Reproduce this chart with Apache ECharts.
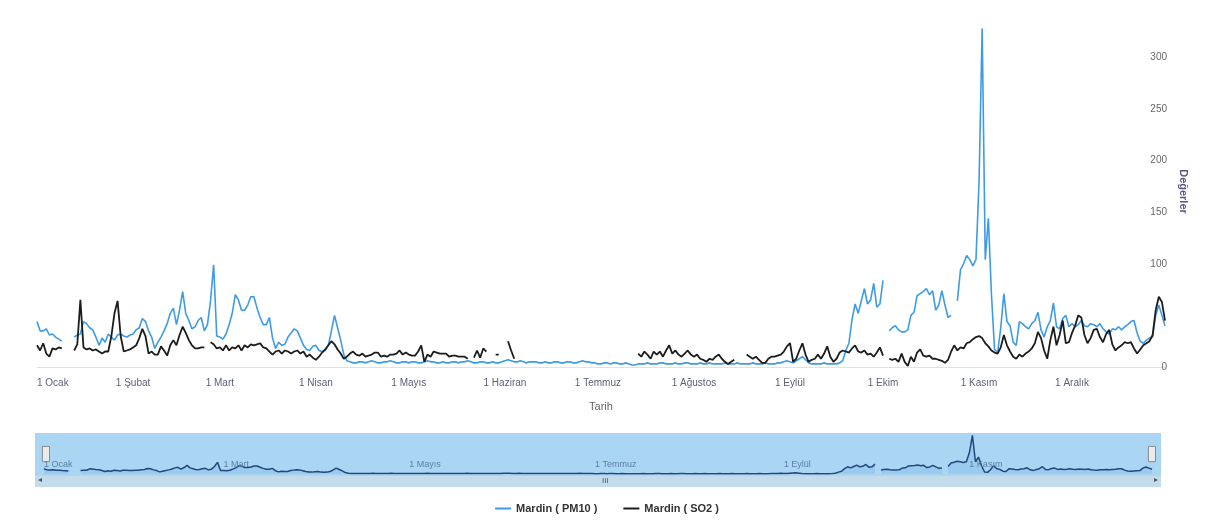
<!DOCTYPE html>
<html>
<head>
<meta charset="utf-8">
<title>Mardin PM10 / SO2</title>
<script src="https://cdn.jsdelivr.net/npm/echarts@6/dist/echarts.min.js"></script>
<style>
  html, body { margin: 0; padding: 0; background: #fff; }
  #chart { width: 1214px; height: 524px; }
</style>
</head>
<body>
<div id="chart"></div>
<script>
// month names / lengths (non leap year)
var monthNames = ['Ocak', 'Şubat', 'Mart', 'Nisan', 'Mayıs', 'Haziran', 'Temmuz', 'Ağustos', 'Eylül', 'Ekim', 'Kasım', 'Aralık'];
var monthDays = [31, 28, 31, 30, 31, 30, 31, 31, 30, 31, 30, 31];
var seriesNames = ['Mardin ( PM10 )', 'Mardin ( SO2 )'];
var yTicks = [0, 100, 150, 200, 250, 300];   // 50 is not printed in the original

// daily PM10 values, 1 Ocak .. 31 Aralık
var pm10 = [
  44,35,35,37,31,32,29,27,25,null,
  null,null,29,31,32,44,42,38,36,29,
  21,28,24,32,29,26,31,32,30,29,
  31,32,36,38,47,44,35,29,18,24,
  29,35,42,52,57,41,55,73,52,45,
  37,39,45,48,35,41,64,99,30,29,
  27,32,41,52,70,65,55,55,60,68,
  68,57,48,41,41,48,28,18,24,21,
  22,29,33,37,35,28,21,17,16,20,
  21,16,15,16,21,35,50,38,26,12,
  6,5,4,4,5,5,4,5,6,5,
  4,4,5,5,6,5,4,4,5,5,
  4,5,5,4,4,5,6,5,5,4,
  4,5,4,4,5,5,4,5,5,6,
  5,4,4,5,5,4,4,5,4,4,
  5,6,7,6,5,5,6,5,4,5,
  5,5,4,4,5,4,4,5,5,4,
  4,5,5,4,4,5,6,5,5,4,
  4,3,3,4,4,3,4,4,3,3,
  4,3,2,2,3,3,3,4,3,3,
  3,4,4,3,3,3,4,3,3,4,
  4,3,3,3,4,3,3,4,3,3,
  3,3,4,3,3,3,4,3,3,3,
  3,4,3,3,3,4,3,3,3,4,
  4,5,6,5,4,6,8,10,7,4,
  3,3,3,3,4,3,3,3,3,4,
  6,16,23,46,61,52,64,76,61,65,
  81,58,61,84,null,35,38,40,36,34,
  34,36,50,53,69,71,73,76,70,74,
  55,60,74,60,48,50,null,64,94,100,
  108,104,98,104,180,328,104,144,70,17,
  14,38,71,44,40,24,21,44,42,39,
  37,42,45,53,36,29,39,45,62,39,
  37,47,50,39,42,39,41,45,40,39,
  42,41,39,42,37,34,32,37,36,39,
  36,39,41,44,45,33,25,23,26,28,
  29,50,60,50,40
];

// daily SO2 values
var so2 = [
  21,16,23,13,10,18,17,19,18,null,
  null,null,16,22,65,19,17,18,16,17,
  15,13,15,15,30,52,64,30,15,16,
  17,19,21,28,37,30,13,15,12,12,
  20,16,11,21,26,21,31,39,33,26,
  21,18,18,19,19,null,24,22,18,19,
  16,21,16,19,18,21,16,21,19,22,
  21,22,23,19,18,15,12,15,16,13,
  16,15,13,15,16,13,15,10,12,9,
  7,10,14,17,21,25,22,17,13,8,
  10,13,15,12,11,13,10,11,12,14,
  14,10,11,10,12,12,13,16,12,14,
  12,11,11,15,21,5,12,10,15,14,
  13,13,13,10,11,11,10,10,10,8,
  null,9,16,9,18,15,null,null,12,12,
  null,null,25,16,8,null,null,null,null,null,
  null,null,null,null,null,null,null,null,null,null,
  null,null,null,null,null,null,null,null,null,null,
  null,null,null,null,null,null,null,null,null,null,
  null,null,null,null,13,10,15,12,8,15,
  12,15,10,16,21,13,16,12,10,13,
  16,12,10,12,8,7,5,8,7,10,
  12,8,5,3,5,7,null,null,null,12,
  10,8,10,7,4,4,8,10,10,11,
  12,15,20,23,5,8,16,23,12,5,
  7,8,12,8,13,20,10,5,8,14,
  16,15,14,18,21,15,14,16,12,13,
  10,14,19,11,null,8,7,8,5,13,
  5,1,10,5,14,17,11,10,11,8,
  8,7,6,4,7,15,21,16,19,18,
  23,24,27,29,30,28,23,20,16,14,
  13,19,31,21,15,10,8,12,10,13,
  15,18,23,34,28,16,8,26,39,21,
  31,45,23,24,33,40,50,48,31,23,
  28,36,37,29,24,32,36,22,16,19,
  21,24,23,24,18,13,17,21,23,25,
  31,55,68,63,45
];

// categories: "1 Ocak", "2 Ocak", ...
var days = [];
var monthOf = [];
for (var m = 0; m < 12; m++) {
  for (var d = 1; d <= monthDays[m]; d++) {
    days.push(d + ' ' + monthNames[m]);
    monthOf.push(m);
  }
}

var font = 'Liberation Sans';
var myChart = echarts.init(document.getElementById('chart'), null, { renderer: 'canvas' });

var option = {
  animation: false,
  backgroundColor: '#fff',
  textStyle: { fontFamily: font },
  grid: [
    { left: 37, right: 49, top: 16, bottom: 157 },
    { left: 44, right: 62, top: 434, height: 40 }   // navigator
  ],
  xAxis: [
    {
      type: 'category',
      data: days,
      boundaryGap: false,
      name: 'Tarih',
      nameLocation: 'middle',
      nameGap: 34,
      nameTextStyle: { color: '#666', fontSize: 11, fontFamily: font },
      axisLine: { lineStyle: { color: '#dde2ea' } },
      axisTick: { show: false },
      splitLine: { show: false },
      axisLabel: {
        color: '#5a5f78',
        fontSize: 10,
        margin: 11,
        alignMinLabel: 'left',
        interval: function (i, v) { return v.split(' ')[0] === '1'; }
      }
    },
    {
      type: 'category',
      gridIndex: 1,
      data: days,
      boundaryGap: false,
      z: 10,
      axisLine: { show: false },
      axisTick: { show: false },
      splitLine: { show: false },
      axisLabel: {
        inside: true,
        color: '#5d7ea3',
        fontSize: 9,
        margin: 5,
        align: 'left',
        interval: function (i, v) { return v.split(' ')[0] === '1' && monthOf[i] % 2 === 0; }
      }
    }
  ],
  yAxis: [
    {
      type: 'value',
      position: 'right',
      min: 0,
      max: 340,
      interval: 50,
      name: 'Değerler',
      nameLocation: 'middle',
      nameRotate: -90,
      nameGap: 12,
      nameTextStyle: { color: '#5b5486', fontSize: 11, fontWeight: 'bold', fontFamily: font },
      axisLine: { show: false },
      axisTick: { show: false },
      splitLine: { show: false },
      axisLabel: {
        color: '#666',
        fontSize: 10,
        align: 'right',
        margin: 2,
        showMaxLabel: false,
        formatter: function (v) { return yTicks.indexOf(v) >= 0 ? String(v) : ''; }
      }
    },
    { type: 'value', gridIndex: 1, min: 0, max: 340, show: false }
  ],
  dataZoom: [
    {
      type: 'slider',
      xAxisIndex: 0,
      filterMode: 'none',
      start: 0,
      end: 100,
      left: 44,
      right: 62,
      top: 434,
      height: 40,
      showDetail: false,
      showDataShadow: false,
      brushSelect: false,
      moveHandleSize: 0,
      backgroundColor: 'rgba(0,0,0,0)',
      borderColor: 'rgba(0,0,0,0)',
      fillerColor: 'rgba(0,0,0,0)',
      handleIcon: 'path://M-3.5,-7.5h7v15h-7z',
      handleSize: '38%',
      handleStyle: { color: '#ebebeb', borderColor: '#8a8a8a', borderWidth: 1 }
    }
  ],
  graphic: [
    { type: 'rect', z: -10, shape: { x: 35, y: 433, width: 1126, height: 43 }, style: { fill: '#aad6f3' } },
    { type: 'rect', z: -10, shape: { x: 35, y: 476, width: 1126, height: 11 }, style: { fill: '#c4dbeb' } },
    { type: 'text', z: 20, left: 602, top: 477, style: { text: 'III', fontSize: 8, fill: '#555', fontFamily: font } },
    { type: 'text', z: 20, left: 38, top: 476, style: { text: '◂', fontSize: 8, fill: '#555' } },
    { type: 'text', z: 20, left: 1154, top: 476, style: { text: '▸', fontSize: 8, fill: '#555' } }
  ],
  legend: {
    data: seriesNames,
    bottom: 5,
    left: 'center',
    icon: 'rect',
    itemWidth: 16,
    itemHeight: 2,
    itemGap: 26,
    textStyle: { color: '#333', fontSize: 11, fontWeight: 'bold', fontFamily: font }
  },
  series: [
    {
      name: seriesNames[0],
      type: 'line',
      data: pm10,
      showSymbol: false,
      connectNulls: false,
      color: '#3d9be6',
      lineStyle: { width: 1.6, color: '#3d9be6' }
    },
    {
      name: seriesNames[1],
      type: 'line',
      data: so2,
      showSymbol: false,
      connectNulls: false,
      color: '#1c1c1c',
      lineStyle: { width: 1.8, color: '#1c1c1c' }
    },
    {
      // navigator copy of PM10
      name: 'navigator',
      type: 'line',
      xAxisIndex: 1,
      yAxisIndex: 1,
      data: pm10,
      showSymbol: false,
      silent: true,
      lineStyle: { width: 1.5, color: '#24467c' },
      areaStyle: { color: '#7fbce8', opacity: 0.4 }
    }
  ]
};

myChart.setOption(option);
</script>
</body>
</html>
